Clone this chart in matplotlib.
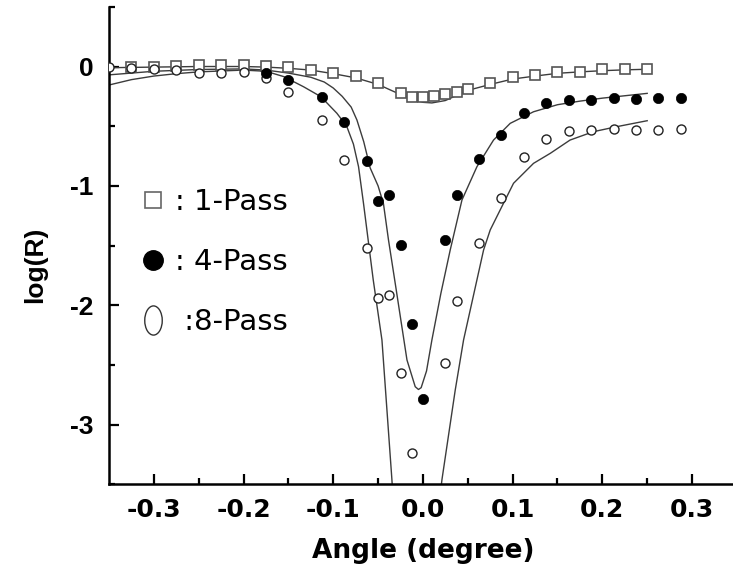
import matplotlib
matplotlib.use("Agg")
import matplotlib.pyplot as plt
from matplotlib.path import Path
from matplotlib.transforms import Affine2D
from matplotlib.lines import Line2D

# ---------------- data ----------------
x_1pass = [-0.325, -0.3, -0.275, -0.25, -0.225, -0.2, -0.175, -0.15, -0.125, -0.1, -0.075,
           -0.05, -0.025, -0.0125, 0.0, 0.0125, 0.025, 0.0375, 0.05, 0.075, 0.1, 0.125,
           0.15, 0.175, 0.2, 0.225, 0.25]
y_1pass = [0.0, 0.0, 0.005, 0.01, 0.01, 0.01, 0.005, 0.0, -0.03, -0.057, -0.08,
           -0.136, -0.224, -0.253, -0.253, -0.247, -0.23, -0.211, -0.191, -0.141, -0.091, -0.071,
           -0.049, -0.049, -0.023, -0.023, -0.023]

x_4pass = [-0.175, -0.15, -0.1125, -0.0875, -0.0625, -0.05, -0.0375, -0.025, -0.0125, 0.0,
           0.025, 0.0375, 0.0625, 0.0875, 0.1125, 0.1375, 0.1625, 0.1875, 0.2125, 0.2375,
           0.2625, 0.2875]
y_4pass = [-0.052, -0.113, -0.258, -0.462, -0.791, -1.124, -1.076, -1.495, -2.155, -2.787,
           -1.453, -1.076, -0.777, -0.574, -0.392, -0.308, -0.281, -0.281, -0.267, -0.275,
           -0.267, -0.267]

x_8pass = [-0.35, -0.325, -0.3, -0.275, -0.25, -0.225, -0.2, -0.175, -0.15, -0.1125, -0.0875,
           -0.0625, -0.05, -0.0375, -0.025, -0.0125, 0.025, 0.0375, 0.0625, 0.0875, 0.1125,
           0.1375, 0.1625, 0.1875, 0.2125, 0.2375, 0.2625, 0.2875]
y_8pass = [0.0, -0.01, -0.02, -0.03, -0.057, -0.057, -0.05, -0.099, -0.211, -0.448, -0.783,
           -1.523, -1.941, -1.914, -2.564, -3.235, -2.481, -1.961, -1.476, -1.104, -0.761,
           -0.607, -0.54, -0.532, -0.526, -0.532, -0.532, -0.526]

# fitted curves
fit1_x = [-0.35, -0.3, -0.25, -0.2, -0.175, -0.15, -0.125, -0.1, -0.075, -0.05, -0.025, 0.0,
          0.01, 0.025, 0.05, 0.075, 0.1, 0.125, 0.15, 0.175, 0.2, 0.225, 0.25]
fit1_y = [-0.01, -0.005, 0.0, 0.0, -0.005, -0.015, -0.03, -0.06, -0.095, -0.15, -0.235, -0.3,
          -0.305, -0.285, -0.2, -0.15, -0.105, -0.08, -0.057, -0.045, -0.035, -0.028, -0.023]

fit4_x = [-0.35, -0.3, -0.25, -0.2, -0.175, -0.15, -0.125, -0.11, -0.1, -0.09, -0.08, -0.0736,
          -0.066, -0.0588, -0.05, -0.044, -0.0384, -0.03, -0.0178, -0.0086, -0.005, -0.002,
          0.004, 0.01, 0.02, 0.0304, 0.0435, 0.0602, 0.0787, 0.0973, 0.1233, 0.15, 0.175, 0.2,
          0.225, 0.25]
fit4_y = [-0.07, -0.04, -0.025, -0.02, -0.03, -0.055, -0.09, -0.13, -0.18, -0.25, -0.34, -0.448,
          -0.63, -0.85, -1.0, -1.15, -1.453, -1.86, -2.458, -2.682, -2.705, -2.69,
          -2.55, -2.29, -1.9, -1.537, -1.118, -0.839, -0.616, -0.476, -0.379, -0.32, -0.29, -0.265,
          -0.245, -0.225]

fit8_x = [-0.35, -0.325, -0.3, -0.275, -0.25, -0.2, -0.175, -0.155, -0.133, -0.1137, -0.0959,
          -0.085, -0.0775, -0.0718, -0.0662, -0.0554, -0.0457, -0.0346, -0.0335, 0.019, 0.0212,
          0.036, 0.0453, 0.0676, 0.075, 0.0862, 0.101, 0.1233, 0.142, 0.164, 0.19, 0.216, 0.25]
fit8_y = [-0.155, -0.11, -0.08, -0.06, -0.045, -0.03, -0.04, -0.085, -0.17, -0.253, -0.392,
          -0.5, -0.65, -0.839, -1.15, -1.788, -2.291, -3.46, -3.6, -3.6, -3.46,
          -2.71, -2.29, -1.537, -1.369, -1.2, -0.978, -0.811, -0.727, -0.616, -0.546, -0.504, -0.454]

legend_labels = [": 1-Pass", ": 4-Pass", " :8-Pass"]
x_ticks = [-0.3, -0.2, -0.1, 0.0, 0.1, 0.2, 0.3]
x_ticklabels = ["-0.3", "-0.2", "-0.1", "0.0", "0.1", "0.2", "0.3"]
y_ticks = [0, -1, -2, -3]
y_ticklabels = ["0", "-1", "-2", "-3"]

# ---------------- figure ----------------
plt.rcParams["font.family"] = ["Liberation Sans", "DejaVu Sans"]

fig = plt.figure(figsize=(7.33, 5.77), dpi=100)
ax = fig.add_axes([0.1487, 0.1605, 0.8566, 0.8277])

line_col = "#3c3c3c"
ax.plot(fit1_x, fit1_y, color=line_col, lw=1.0, zorder=2)
ax.plot(fit4_x, fit4_y, color=line_col, lw=1.0, zorder=2)
ax.plot(fit8_x, fit8_y, color=line_col, lw=1.0, zorder=2)

ax.plot(x_1pass, y_1pass, ls="none", marker="s", ms=7.8, mfc="white", mec="#555555",
        mew=1.2, zorder=3)
ax.plot(x_8pass, y_8pass, ls="none", marker="o", ms=6.5, mfc="white", mec="#222222",
        mew=1.0, zorder=4)
ax.plot(x_4pass, y_4pass, ls="none", marker="o", ms=7.4, mfc="black", mec="black",
        mew=0.5, zorder=5)

ax.set_xlim(-0.35, 0.35)
ax.set_ylim(-3.5, 0.5)

for s in ["top", "right"]:
    ax.spines[s].set_visible(False)
for s in ["left", "bottom"]:
    ax.spines[s].set_linewidth(1.8)

ax.set_xticks(x_ticks)
ax.set_xticklabels(x_ticklabels)
ax.set_xticks([-0.25, -0.15, -0.05, 0.05, 0.15, 0.25, 0.35], minor=True)
ax.set_yticks(y_ticks)
ax.set_yticklabels(y_ticklabels)
ax.set_yticks([0.5, -0.5, -1.5, -2.5, -3.5], minor=True)
ax.tick_params(which="major", direction="in", length=7, width=1.6)
ax.tick_params(which="minor", direction="in", length=4.5, width=1.6)
ax.tick_params(axis="x", which="major", pad=10)
ax.tick_params(axis="y", which="major", pad=11)
for lab in ax.get_xticklabels():
    lab.set_fontfamily("DejaVu Sans")
    lab.set_fontweight("bold")
    lab.set_fontsize(18)
for lab in ax.get_yticklabels():
    lab.set_fontfamily("Liberation Sans")
    lab.set_fontweight("bold")
    lab.set_fontsize(19)

ax.set_xlabel("Angle (degree)", fontsize=19, fontweight="bold", family="DejaVu Sans",
              labelpad=11)
ax.set_ylabel("log(R)", fontsize=19, fontweight="bold", family="Liberation Sans")
ax.yaxis.set_label_coords(-0.098, 0.46)

ellipse = Path.unit_circle().transformed(Affine2D().scale(0.6, 1.0))
handles = [
    Line2D([], [], ls="none", marker="s", ms=12, mfc="white", mec="#666666", mew=1.2),
    Line2D([], [], ls="none", marker="o", ms=14, mfc="black", mec="black"),
    Line2D([], [], ls="none", marker=ellipse, ms=21, mfc="white", mec="#333333", mew=1.0),
]
ax.legend(handles, legend_labels, loc="upper left", bbox_to_anchor=(0.028, 0.645),
          frameon=False, prop={"family": "DejaVu Sans", "size": 21},
          handlelength=1.0, handletextpad=0.25, labelspacing=1.1, borderaxespad=0)

fig.savefig("out.png", dpi=100)
